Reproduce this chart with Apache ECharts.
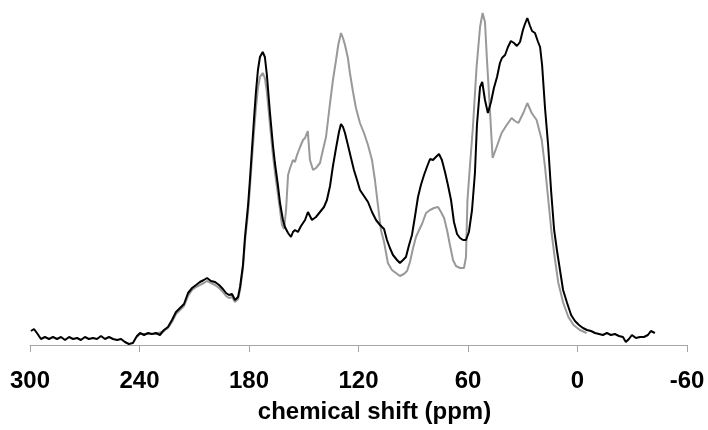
<!DOCTYPE html>
<html>
<head>
<meta charset="utf-8">
<script src="https://cdn.jsdelivr.net/npm/echarts@6/dist/echarts.min.js"></script>
<style>html,body{margin:0;padding:0;background:#fff;}#c{width:708px;height:430px;}</style>
</head>
<body>
<div id="c"></div>
<script>
var xTicks = [300, 240, 180, 120, 60, 0, -60];
var axisTitle = 'chemical shift (ppm)';

var blackPpm = [299.5,297.8,296.2,294.0,291.8,289.6,287.4,285.2,283.0,280.8,278.6,276.4,274.2,272.1,269.9,267.7,265.5,263.3,261.1,258.9,256.7,254.5,252.3,250.1,248.0,245.8,243.6,241.4,239.7,237.5,235.3,233.2,231.0,228.8,226.6,224.4,222.2,220.0,217.8,215.6,213.4,211.2,209.0,206.9,204.7,203.0,200.8,198.6,196.4,194.3,192.6,191.0,189.3,187.7,186.0,184.9,183.3,182.2,180.5,179.5,178.4,177.3,176.2,175.1,174.0,172.5,171.3,170.2,168.5,166.9,165.8,164.1,163.0,161.4,160.3,158.6,157.0,155.9,154.8,153.2,151.5,149.3,147.7,146.6,145.5,143.3,141.1,138.9,137.3,135.6,134.0,132.3,130.7,129.6,128.5,127.4,125.8,124.1,122.5,120.8,119.2,117.0,114.8,112.6,110.4,108.2,106.0,104.4,102.8,101.1,98.9,97.3,95.6,94.0,92.3,90.7,89.1,87.4,85.8,84.1,82.5,80.8,79.2,77.6,75.9,74.3,72.6,71.0,69.3,67.7,66.0,64.4,62.7,61.1,59.5,57.8,56.2,55.1,53.4,52.2,50.7,49.1,47.4,45.8,44.1,42.5,41.4,39.7,38.1,36.5,34.8,33.2,31.5,29.9,28.8,27.5,26.0,24.9,23.3,21.6,20.5,19.4,17.8,16.1,14.5,12.8,11.2,9.6,7.9,5.7,3.5,1.4,-0.8,-3.0,-5.2,-7.4,-9.6,-11.8,-13.9,-16.1,-18.3,-20.5,-22.7,-24.9,-26.5,-28.2,-29.8,-32.0,-34.2,-36.4,-38.6,-40.2,-42.4];
var blackInt = [14,16,12,6,8,6,8,6,8,5,8,6,7,5,8,6,7,6,9,6,8,6,5,6,3,1,2,9,12,10,12,11,12,10,15,18,25,33,37,41,52,57,60,63,65,67,64,63,60,56,52,50,51,45,48,58,80,108,140,165,195,225,253,275,288,293,288,270,232,200,182,159,142,125,118,112,108,113,115,113,119,125,133,129,125,128,133,138,145,159,179,197,213,221,218,212,200,187,175,165,155,149,143,133,125,120,116,105,97,90,85,82,85,88,100,110,128,148,160,170,178,186,185,188,191,185,173,160,145,123,111,107,105,105,113,135,172,220,258,263,245,232,243,257,268,282,287,290,298,304,302,299,303,315,321,327,319,314,312,303,298,280,237,200,155,115,94,75,55,42,30,24,20,17,15,14,12,11,10,12,10,11,9,8,3,6,10,7,8,8,10,14,12];

var grayPpm = [241.4,239.7,235.3,231.0,226.6,224.4,222.2,220.0,217.8,215.6,213.4,211.2,209.0,206.9,204.7,203.0,200.8,198.6,196.4,194.3,192.6,191.0,189.3,187.7,186.0,184.9,183.3,182.2,180.5,179.5,178.4,177.3,176.2,175.1,174.0,172.5,171.3,170.2,168.5,166.9,165.8,164.1,163.0,161.9,160.8,159.7,158.6,157.5,155.9,154.8,153.7,152.0,150.4,149.3,147.8,146.6,144.9,143.3,141.1,139.5,137.8,135.6,134.0,132.3,131.1,129.6,128.5,127.4,125.8,124.7,123.0,121.4,119.2,117.0,114.8,112.6,111.0,109.3,107.7,106.0,103.9,101.7,99.5,97.3,95.1,93.4,91.8,90.1,88.5,86.8,85.2,83.0,80.8,78.6,76.4,74.8,73.1,71.5,69.9,68.2,66.6,64.4,62.2,61.1,60.3,58.9,57.3,55.3,53.4,52.0,50.7,49.6,48.3,46.5,44.3,41.6,38.8,36.1,34.3,32.4,29.7,27.5,25.1,22.4,19.6,17.8,16.0,14.2,12.3,10.5,7.8,5.0,2.2,-1.3,-5.0];
var grayInt = [8,11,11,11,14,17,23,31,35,39,49,55,58,60,62,64,62,60,57,53,49,47,48,43,46,55,77,103,133,157,185,212,237,257,268,272,267,253,220,190,173,150,135,120,116,135,170,177,185,183,190,198,205,207,214,185,175,177,182,195,208,242,265,285,300,312,307,300,287,272,253,237,222,212,200,185,165,139,115,103,82,75,72,69,71,74,83,97,108,115,121,132,135,137,138,133,127,115,100,85,79,77,77,88,145,180,218,278,318,332,323,285,245,187,198,212,220,227,224,222,232,242,232,225,205,178,145,112,85,62,42,28,20,15,12];

function pairs(xs, ys) { return xs.map(function (x, i) { return [x, ys[i]]; }); }

var chart = echarts.init(document.getElementById('c'), null, { renderer: 'canvas' });
chart.setOption({
  animation: false,
  backgroundColor: '#ffffff',
  grid: { left: 30, right: 21, top: 5, bottom: 85, containLabel: false },
  xAxis: {
    type: 'value',
    inverse: true,
    min: -60,
    max: 300,
    interval: 60,
    name: axisTitle,
    nameLocation: 'middle',
    nameGap: 55,
    nameTextStyle: { fontFamily: 'Liberation Sans', fontWeight: 'bold', fontSize: 24, color: '#000', padding: [0, 0, 0, 32], lineHeight: 24 },
    axisLine: { lineStyle: { color: '#a6a6a6', width: 1 } },
    axisTick: { show: true, length: 7, lineStyle: { color: '#a6a6a6' } },
    axisLabel: {
      margin: 24,
      fontFamily: 'Liberation Sans', fontWeight: 'bold', fontSize: 24, color: '#000', lineHeight: 24,
      formatter: function (v) { return xTicks.indexOf(v) >= 0 ? String(v) : ''; }
    },
    splitLine: { show: false }
  },
  yAxis: { type: 'value', min: 0, max: 340, show: false, splitLine: { show: false } },
  series: [
    { type: 'line', data: pairs(grayPpm, grayInt), showSymbol: false, symbol: 'none', lineStyle: { color: '#999999', width: 2 }, z: 2 },
    { type: 'line', data: pairs(blackPpm, blackInt), showSymbol: false, symbol: 'none', lineStyle: { color: '#000000', width: 2 }, z: 3 }
  ]
});
</script>
</body>
</html>
